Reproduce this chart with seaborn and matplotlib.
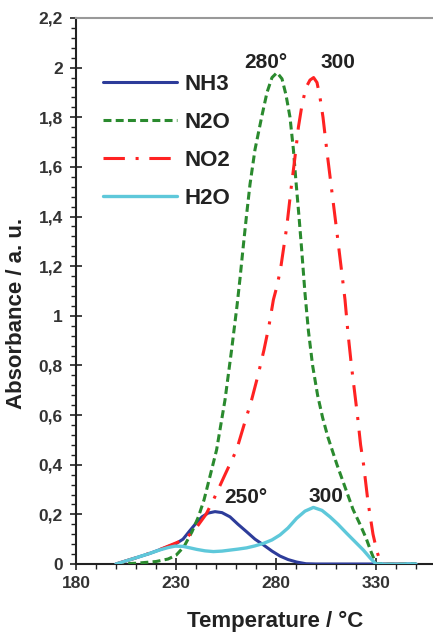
import numpy as np
import pandas as pd
import matplotlib
matplotlib.use("Agg")
import matplotlib.pyplot as plt
from matplotlib.ticker import FixedLocator, FixedFormatter, MultipleLocator
import seaborn as sns

# Temperature-programmed desorption profiles (absorbance vs temperature)
nh3_temp = [200, 210, 217, 222, 226, 230, 233.5, 237, 240.3, 243, 246, 249.5, 253,
            257, 261, 265.3, 269.5, 273.7, 278, 282, 286, 290.3, 295, 300, 350]
nh3_abs = [0, 0.025, 0.043, 0.058, 0.07, 0.082, 0.10, 0.135, 0.167, 0.19, 0.205, 0.211, 0.207,
           0.19, 0.16, 0.13, 0.10, 0.077, 0.052, 0.032, 0.018, 0.008, 0.001, 0, 0]

n2o_temp = [200, 210, 220, 226, 230, 234, 238, 241.2, 244, 247.2, 250.3, 254.5, 257.8,
            260.5, 262, 263.5, 265.2, 267, 269.5, 272.8, 275.5, 278, 280.5, 283, 285, 287,
            288.7, 290, 291.5, 292.8, 294.5, 296.2, 298.3, 300.8, 303.3, 306, 310.5, 314.5,
            318.5, 322, 325, 327.5, 330, 340, 350]
n2o_abs = [0, 0.003, 0.01, 0.02, 0.035, 0.07, 0.13, 0.19, 0.258, 0.36, 0.46, 0.661, 0.863,
           1.04, 1.15, 1.27, 1.40, 1.53, 1.67, 1.80, 1.90, 1.96, 1.98, 1.955, 1.89, 1.80,
           1.67, 1.54, 1.40, 1.27, 1.09, 0.94, 0.80, 0.68, 0.59, 0.51, 0.40, 0.31,
           0.22, 0.16, 0.105, 0.05, 0, 0, 0]

no2_temp = [200, 210, 220, 230, 234.5, 237.5, 240.5, 245, 248.7, 254.5, 260.3, 264, 267.8,
            271, 274, 276.5, 278.7, 280.5, 282.3, 285.4, 287.5, 289.5, 291.2, 293, 295, 297,
            298.8, 300.5, 302, 303.5, 305.5, 307.8, 310.3, 312.8, 314.5, 316, 317.7, 319.2,
            320.7, 322.3, 323.8, 326, 328.5, 330.5, 332.5, 340, 350]
no2_abs = [0, 0.025, 0.052, 0.085, 0.10, 0.124, 0.15, 0.20, 0.258, 0.36, 0.46, 0.56, 0.661,
           0.76, 0.863, 0.96, 1.065, 1.12, 1.19, 1.36, 1.51, 1.64, 1.76, 1.85, 1.92, 1.95,
           1.96, 1.94, 1.88, 1.80, 1.66, 1.51, 1.347, 1.18, 1.065, 0.93, 0.80, 0.70,
           0.60, 0.48, 0.40, 0.25, 0.12, 0.05, 0, 0, 0]

h2o_temp = [200, 210, 217, 222, 226, 229.5, 233.5, 237, 240.3, 244.5, 248.7, 253, 257, 261,
            265.3, 269.5, 273.7, 278, 282, 286, 290.3, 294.5, 298.7, 303, 307, 311, 315.3,
            319.5, 323.7, 327, 330, 340, 350]
h2o_abs = [0, 0.025, 0.043, 0.057, 0.066, 0.072, 0.071, 0.065, 0.059, 0.053, 0.05, 0.052,
           0.056, 0.06, 0.065, 0.073, 0.083, 0.097, 0.117, 0.145, 0.184, 0.213, 0.228, 0.216,
           0.19, 0.16, 0.124, 0.09, 0.056, 0.025, 0, 0, 0]

y_ticks = [0, 0.2, 0.4, 0.6, 0.8, 1.0, 1.2, 1.4, 1.6, 1.8, 2.0, 2.2]
y_tick_labels = ["0", "0,2", "0,4", "0,6", "0,8", "1", "1,2", "1,4", "1,6", "1,8", "2", "2,2"]
x_ticks = [180, 230, 280, 330]
x_tick_labels = ["180", "230", "280", "330"]

peak_labels = ["280°", "300", "250°", "300"]
peak_temp = [274.8, 310.8, 264.8, 304.8]
peak_abs = [2.02, 2.02, 0.266, 0.27]

sns.set_theme(style="white")
plt.rcParams["font.family"] = ["Liberation Sans", "DejaVu Sans"]

fig = plt.figure(figsize=(4.33, 6.36), dpi=100)
ax = fig.add_axes([76 / 433, 1 - 564 / 636, 1 - 76 / 433, (564 - 18) / 636])

series = [
    ("NH3", nh3_temp, nh3_abs, "#2d3c9a", "-", 2.2),
    ("N2O", n2o_temp, n2o_abs, "#2a8a2e", (0, (2.6, 1.4)), 2.2),
    ("NO2", no2_temp, no2_abs, "#ff2222", (0, (7, 3.5, 1, 3.5)), 2.2),
    ("H2O", h2o_temp, h2o_abs, "#5ec8da", "-", 2.4),
]
for name, t, a, color, ls, lw in series:
    df = pd.DataFrame({"Temperature": t, "Absorbance": a})
    sns.lineplot(data=df, x="Temperature", y="Absorbance", ax=ax, color=color,
                 linestyle=ls, linewidth=lw, label=name, sort=False, zorder=3)

ax.set_xlim(180, 358.5)
ax.set_ylim(0, 2.2)

ax.xaxis.set_major_locator(FixedLocator(x_ticks))
ax.xaxis.set_major_formatter(FixedFormatter(x_tick_labels))
ax.xaxis.set_minor_locator(MultipleLocator(10))
ax.yaxis.set_major_locator(FixedLocator(y_ticks))
ax.yaxis.set_major_formatter(FixedFormatter(y_tick_labels))
ax.yaxis.set_minor_locator(MultipleLocator(0.04))

tick_color = "#333333"
ax.tick_params(axis="both", which="major", direction="inout", length=9, width=1.2,
               color="#222222", labelsize=12.5, labelcolor=tick_color)
ax.tick_params(axis="both", which="minor", direction="out", length=3.5, width=1.0,
               color="#222222")
ax.tick_params(axis="y", which="major", pad=5)
ax.tick_params(axis="x", which="major", pad=4)
ax.tick_params(bottom=True, left=True, which="both")
for lbl in ax.get_xticklabels() + ax.get_yticklabels():
    lbl.set_fontweight("bold")

for side in ["left", "bottom"]:
    ax.spines[side].set_color("#222222")
    ax.spines[side].set_linewidth(1.5)
ax.spines["top"].set_color("#999999")
ax.spines["top"].set_linewidth(1.5)
ax.spines["right"].set_visible(False)

ax.set_xlabel("Temperature / °C", fontsize=16, fontweight="bold", color="#222222")
ax.set_ylabel("Absorbance / a. u.", fontsize=16, fontweight="bold", color="#222222")
ax.xaxis.set_label_coords(0.557, -0.106)
ax.xaxis.label.set_va("center")
ax.yaxis.set_label_coords(-0.168, 0.458)
ax.yaxis.label.set_va("center")

for txt, t, a in zip(peak_labels, peak_temp, peak_abs):
    ax.text(t, a, txt, fontsize=15, fontweight="bold", color="#222222",
            ha="center", va="center", zorder=4)

leg = ax.legend(loc="upper left", bbox_to_anchor=(0.0756, 0.897), frameon=False,
                fontsize=16, handlelength=3.33, handletextpad=0.36, labelspacing=0.765,
                borderpad=0, borderaxespad=0)
for text in leg.get_texts():
    text.set_fontweight("bold")
    text.set_color("#222222")

fig.savefig("out.png", dpi=100, facecolor="white")
